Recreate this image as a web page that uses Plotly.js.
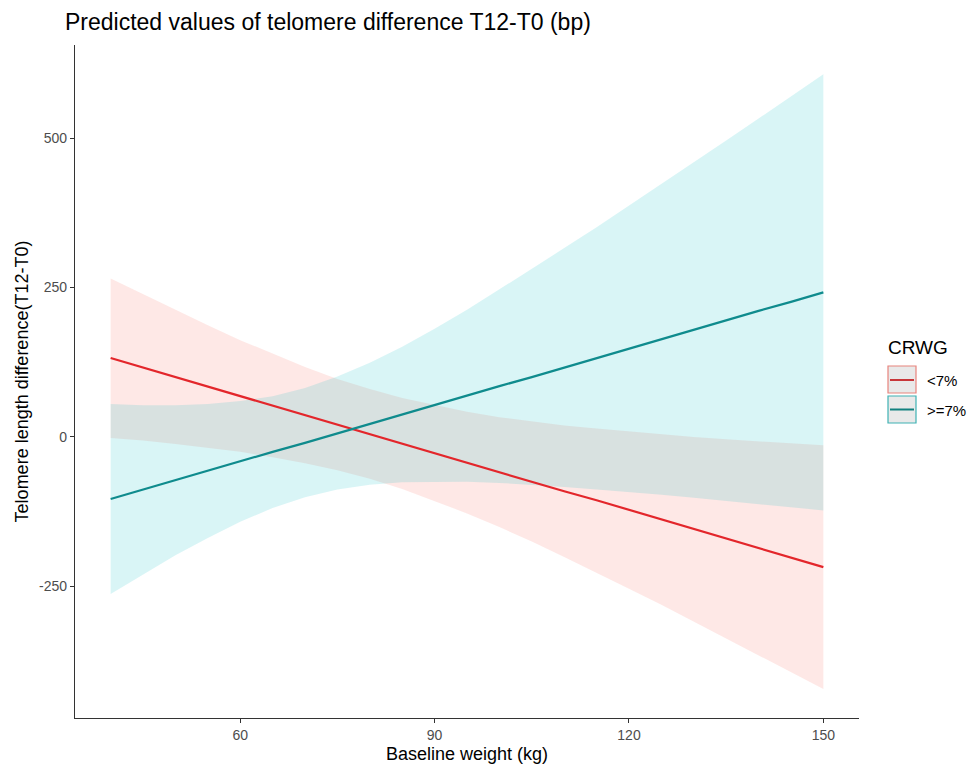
<!DOCTYPE html>
<html>
<head>
<meta charset="utf-8">
<script src="https://cdn.plot.ly/plotly-3.0.1.min.js"></script>
<style>html,body{margin:0;padding:0;background:#fff;}#chart{width:968px;height:768px;}</style>
</head>
<body>
<div id="chart"></div>
<script>
// Baseline weight (kg)
const weight = [40,45,50,55,60,65,70,75,80,85,90,95,100,105,110,115,120,125,130,135,140,145,150];

// CRWG < 7%
const lowPred  = [132,116,100,84,68,52,37,21,5,-11,-27,-43,-59,-75,-91,-106,-122,-138,-154,-170,-186,-202,-218];
const lowLower = [-2,-6,-12,-18,-25,-34,-44,-56,-70,-87,-107,-128,-151,-175,-201,-227,-254,-281,-309,-337,-365,-393,-422];
const lowUpper = [265,239,212,187,162,139,117,97,80,65,53,42,33,26,19,14,9,4,0,-4,-7,-11,-14];

// CRWG >= 7%
const highPred  = [-104,-88,-73,-57,-41,-25,-10,6,22,38,53,69,85,100,116,132,148,163,179,195,211,226,242];
const highLower = [-263,-230,-198,-169,-142,-119,-101,-88,-80,-76,-75,-75,-77,-80,-84,-88,-92,-97,-102,-107,-112,-117,-123];
const highUpper = [55,53,53,55,60,68,82,101,124,151,181,213,247,281,316,351,387,423,460,496,533,570,607];

const legendTitle = "CRWG";
const groupLabels = ["<7%", ">=7%"];
const xTicks = [60, 90, 120, 150];
const yTicks = [-250, 0, 250, 500];

const lowLine = "#E3262B", highLine = "#0F8B8D";
const lowFill = "rgba(248,118,109,0.17)", highFill = "rgba(0,191,196,0.15)";

function band(lower, upper, fill) {
  return [
    {x: weight, y: lower, mode: "lines", line: {width: 0}, hoverinfo: "skip", showlegend: false},
    {x: weight, y: upper, mode: "lines", line: {width: 0}, fill: "tonexty", fillcolor: fill, hoverinfo: "skip", showlegend: false}
  ];
}

const traces = [
  ...band(lowLower, lowUpper, lowFill),
  ...band(highLower, highUpper, highFill),
  {x: weight, y: lowPred, mode: "lines", line: {color: lowLine, width: 2.2}, name: groupLabels[0], showlegend: false},
  {x: weight, y: highPred, mode: "lines", line: {color: highLine, width: 2.2}, name: groupLabels[1], showlegend: false}
];

const font = "Liberation Sans, Arial, sans-serif";

// plot area in pixels
const W = 968, H = 768, L = 75, R = 109, T = 45, B = 50;
const PW = W - L - R, PH = H - T - B;
const px = v => (v - L) / PW, py = v => (H - B - v) / PH;

// manual ggplot-style legend
const shapes = [
  {type: "rect", xref: "paper", yref: "paper", x0: px(888), x1: px(916), y0: py(366), y1: py(393),
   fillcolor: "#E9E9E9", line: {color: "#E8847D", width: 1.2}},
  {type: "line", xref: "paper", yref: "paper", x0: px(890), x1: px(914), y0: py(380), y1: py(380),
   line: {color: "#C8373A", width: 2}},
  {type: "rect", xref: "paper", yref: "paper", x0: px(888), x1: px(916), y0: py(396), y1: py(423),
   fillcolor: "#E9E9E9", line: {color: "#3FB2B4", width: 1.2}},
  {type: "line", xref: "paper", yref: "paper", x0: px(890), x1: px(914), y0: py(409.5), y1: py(409.5),
   line: {color: "#12807F", width: 2}}
];
const annotations = [
  {xref: "paper", yref: "paper", x: px(886), y: py(348), xanchor: "left", yanchor: "middle",
   text: legendTitle, showarrow: false, font: {family: font, size: 19, color: "#000"}},
  {xref: "paper", yref: "paper", x: px(925), y: py(380), xanchor: "left", yanchor: "middle",
   text: groupLabels[0].replace("<", "&lt;"), showarrow: false, font: {family: font, size: 15, color: "#000"}},
  {xref: "paper", yref: "paper", x: px(925), y: py(410), xanchor: "left", yanchor: "middle",
   text: groupLabels[1].replace(">", "&gt;"), showarrow: false, font: {family: font, size: 15, color: "#000"}}
];

const layout = {
  width: W, height: H,
  paper_bgcolor: "#fff", plot_bgcolor: "#fff",
  margin: {l: L, r: R, t: T, b: B},
  showlegend: false,
  title: {text: "Predicted values of telomere difference T12-T0 (bp)", xref: "container", x: 65 / W, xanchor: "left",
          yref: "container", y: 1 - 22 / H, yanchor: "middle", font: {family: font, size: 23, color: "#000"}},
  xaxis: {
    range: [34.5, 155.5], tickvals: xTicks, ticktext: xTicks.map(String),
    showgrid: false, zeroline: false, showline: true, linecolor: "#333", linewidth: 1.2,
    ticks: "outside", ticklen: 4, tickcolor: "#333", tickwidth: 1,
    tickfont: {family: font, size: 14, color: "#4D4D4D"},
    title: {text: "Baseline weight (kg)", standoff: 5, font: {family: font, size: 18, color: "#000"}}
  },
  yaxis: {
    range: [-470.5, 656], tickvals: yTicks, ticktext: yTicks.map(String),
    showgrid: false, zeroline: false, showline: true, linecolor: "#333", linewidth: 1.2,
    ticks: "outside", ticklen: 4, tickcolor: "#333", tickwidth: 1,
    tickfont: {family: font, size: 14, color: "#4D4D4D"},
    title: {text: "Telomere length difference(T12-T0)", standoff: 5, font: {family: font, size: 18, color: "#000"}}
  },
  shapes: shapes,
  annotations: annotations
};

Plotly.newPlot("chart", traces, layout, {displayModeBar: false, staticPlot: true});
</script>
</body>
</html>
